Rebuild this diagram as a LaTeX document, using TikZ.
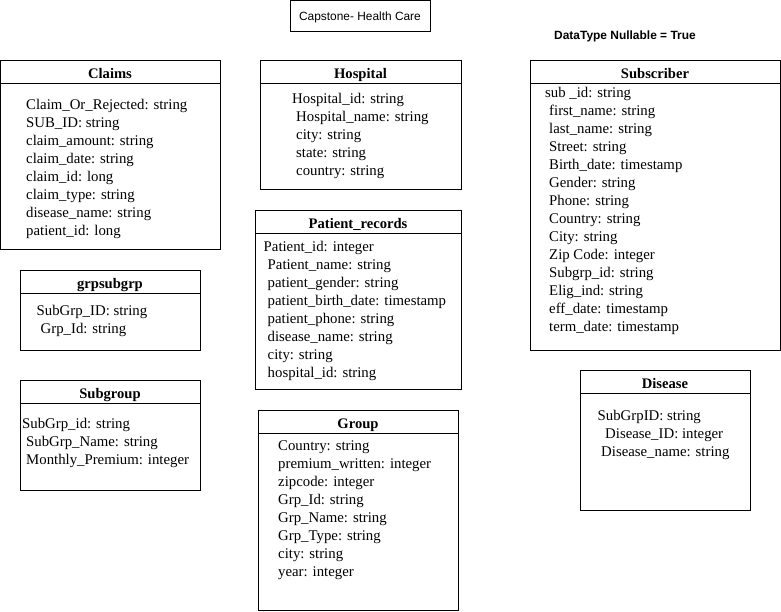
\documentclass[tikz,border=0pt]{standalone}
\usepackage{fontspec}
\setmainfont{Liberation Serif}
\newfontfamily\arialfont{Liberation Sans}
\begin{document}
\begin{tikzpicture}[x=1pt,y=-1pt,
  tbl/.style={draw, line width=0.9pt, inner sep=0pt, anchor=north west},
  hdr/.style={font=\fontsize{14.6}{18}\selectfont\bfseries, anchor=base, inner sep=0pt},
  fld/.style={font=\fontsize{14.8}{18}\selectfont, anchor=base west, inner sep=0pt},
  sep/.style={line width=0.9pt}]
\useasboundingbox (0,0) rectangle (781,611);

% title
\node[draw, line width=0.9pt, minimum width=140pt, minimum height=31pt, anchor=north west, inner sep=0pt] (title) at (290,0) {};
\node[font=\arialfont\fontsize{11.9}{14}\selectfont, anchor=base, inner sep=0pt] (titletxt) at (360,20) {Capstone- Health Care};
\node[font=\arialfont\fontsize{11.95}{14}\selectfont\bfseries, anchor=base west, inner sep=0pt] (note) at (554,39.5) {DataType Nullable = True};

% Claims
\node[tbl, minimum width=220pt, minimum height=189pt] (claims) at (0,60) {};
\draw[sep] (0,83) -- (220,83);
\node[hdr] (claimsh) at (110,78) {Claims};
\foreach \t [count=\i from 0] in {Claim\_Or\_Rejected: string, SUB\_ID: string, claim\_amount: string, claim\_date: string, claim\_id: long, claim\_type: string, disease\_name: string, patient\_id: long}
  \node[fld] (claims\i) at (26,109.5+18*\i) {\t};

% Hospital
\node[tbl, minimum width=201pt, minimum height=129pt] (hosp) at (260,60) {};
\draw[sep] (260,83) -- (461,83);
\node[hdr] (hosph) at (360.5,78) {Hospital};
\node[fld] (hosp0) at (292,103) {Hospital\_id: string};
\foreach \t [count=\i from 1] in {Hospital\_name: string, city: string, state: string, country: string}
  \node[fld] (hosp\i) at (296,103+18*\i) {\t};

% Subscriber
\node[tbl, minimum width=250pt, minimum height=290pt] (subs) at (530,60) {};
\draw[sep] (530,83) -- (780,83);
\node[hdr] (subsh) at (655,78) {Subscriber};
\node[fld] (subs0) at (545,97) {sub \_id: string};
\foreach \t [count=\i from 1] in {first\_name: string, last\_name: string, Street: string, Birth\_date: timestamp, Gender: string, Phone: string, Country: string, City: string, Zip Code: integer, Subgrp\_id: string, Elig\_ind: string, eff\_date: timestamp, term\_date: timestamp}
  \node[fld] (subs\i) at (549,97+18*\i) {\t};

% grpsubgrp
\node[tbl, minimum width=180pt, minimum height=80pt] (gsg) at (20,270) {};
\draw[sep] (20,293) -- (200,293);
\node[hdr] (gsgh) at (110,288) {grpsubgrp};
\node[fld] (gsg0) at (36.5,315) {SubGrp\_ID: string};
\node[fld] (gsg1) at (40.5,333) {Grp\_Id: string};

% Subgroup
\node[tbl, minimum width=180pt, minimum height=110pt] (subg) at (20,380) {};
\draw[sep] (20,403) -- (200,403);
\node[hdr] (subgh) at (110,398) {Subgroup};
\node[fld] (subg0) at (22,428.5) {SubGrp\_id: string};
\node[fld] (subg1) at (26,446.5) {SubGrp\_Name: string};
\node[fld] (subg2) at (26,464.5) {Monthly\_Premium: integer};

% Patient_records
\node[tbl, minimum width=206pt, minimum height=179pt] (pat) at (255,210) {};
\draw[sep] (255,233) -- (461,233);
\node[hdr] (path) at (358,228) {Patient\_records};
\node[fld] (pat0) at (263.5,251) {Patient\_id: integer};
\foreach \t [count=\i from 1] in {Patient\_name: string, patient\_gender: string, patient\_birth\_date: timestamp, patient\_phone: string, disease\_name: string, city: string, hospital\_id: string}
  \node[fld] (pat\i) at (267.5,251+18*\i) {\t};

% Group
\node[tbl, minimum width=200pt, minimum height=200pt] (grp) at (258,410) {};
\draw[sep] (258,433) -- (458,433);
\node[hdr] (grph) at (358,428) {Group};
\foreach \t [count=\i from 0] in {Country: string, premium\_written: integer, zipcode: integer, Grp\_Id: string, Grp\_Name: string, Grp\_Type: string, city: string, year: integer}
  \node[fld] (grp\i) at (278,450+18*\i) {\t};

% Disease
\node[tbl, minimum width=170pt, minimum height=140pt] (dis) at (580,370) {};
\draw[sep] (580,393) -- (750,393);
\node[hdr] (dish) at (665,388) {Disease};
\node[fld] (dis0) at (597.5,420) {SubGrpID: string};
\node[fld] (dis1) at (605,438) {Disease\_ID: integer};
\node[fld] (dis2) at (601,456) {Disease\_name: string};
\end{tikzpicture}
\end{document}
